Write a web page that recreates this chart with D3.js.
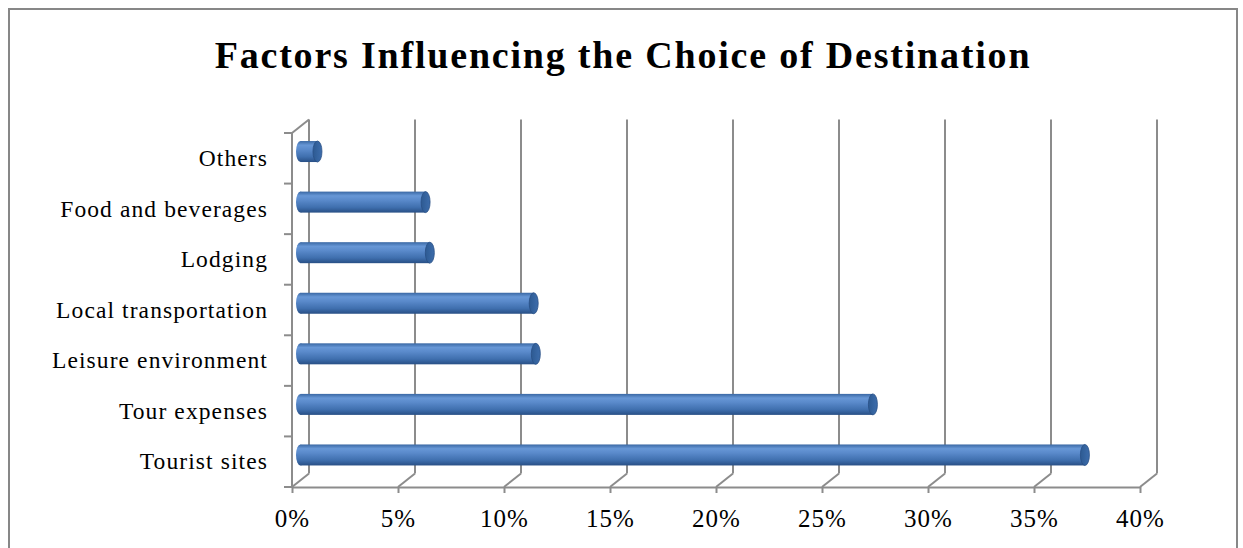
<!DOCTYPE html>
<html>
<head>
<meta charset="utf-8">
<script src="https://cdn.jsdelivr.net/npm/d3@7/dist/d3.min.js"></script>
<style>
  html, body { margin: 0; padding: 0; background: #fff; }
  svg { display: block; }
</style>
</head>
<body>
<svg id="chart" width="1243" height="548"></svg>
<script>
// Survey shares (%) for each factor, listed top to bottom
const categories = ["Others", "Food and beverages", "Lodging", "Local transportation",
                    "Leisure environment", "Tour expenses", "Tourist sites"];
const shares = [0.8, 5.9, 6.1, 11.0, 11.1, 27.0, 37.0];
const xTicks = [0, 5, 10, 15, 20, 25, 30, 35, 40];
const titleText = "Factors Influencing the Choice of Destination";

const serif = "'Liberation Serif', 'Times New Roman', serif";
const svg = d3.select("#chart");

// 3-D offset between the front plane and the back wall
const depthX = 17, depthY = -13.5;
const gridColor = "#8c8c8c";

const x = d3.scaleLinear().domain([0, 40]).range([292, 1140]);
const y = d3.scaleBand().domain(categories).range([133, 487]).padding(0);

// outer chart frame
svg.append("rect")
  .attr("x", 9).attr("y", 9).attr("width", 1228).attr("height", 560)
  .attr("fill", "#fff").attr("stroke", "#878787").attr("stroke-width", 2);

// title
svg.append("text")
  .attr("x", 623).attr("y", 68)
  .attr("text-anchor", "middle")
  .attr("font-family", serif)
  .attr("font-weight", "bold")
  .attr("font-size", 38)
  .attr("letter-spacing", 1.8)
  .attr("fill", "#000")
  .text(titleText);

// gradients for cylinder bodies and end caps
const defs = svg.append("defs");
const grad = defs.append("linearGradient")
  .attr("id", "cyl").attr("x1", 0).attr("y1", 0).attr("x2", 0).attr("y2", 1);
grad.append("stop").attr("offset", "0%").attr("stop-color", "#3a68a4");
grad.append("stop").attr("offset", "20%").attr("stop-color", "#6797d6");
grad.append("stop").attr("offset", "40%").attr("stop-color", "#5a8acb");
grad.append("stop").attr("offset", "75%").attr("stop-color", "#3f6fae");
grad.append("stop").attr("offset", "100%").attr("stop-color", "#284f85");
const capGrad = defs.append("linearGradient")
  .attr("id", "cap").attr("x1", 0).attr("y1", 0).attr("x2", 1).attr("y2", 0);
capGrad.append("stop").attr("offset", "0%").attr("stop-color", "#2d5a92");
capGrad.append("stop").attr("offset", "100%").attr("stop-color", "#3d6dac");

const grid = svg.append("g")
  .attr("stroke", gridColor).attr("stroke-width", 2).attr("fill", "none");

// back wall verticals and floor diagonals
xTicks.forEach(t => {
  grid.append("line")
    .attr("x1", x(t) + depthX).attr("y1", y.range()[0] + depthY)
    .attr("x2", x(t) + depthX).attr("y2", y.range()[1] + depthY);
  grid.append("line")
    .attr("x1", x(t)).attr("y1", y.range()[1])
    .attr("x2", x(t) + depthX).attr("y2", y.range()[1] + depthY);
});

// side wall front edge and its top diagonal
grid.append("line")
  .attr("x1", x(0)).attr("y1", y.range()[0])
  .attr("x2", x(0)).attr("y2", y.range()[1]);
grid.append("line")
  .attr("x1", x(0)).attr("y1", y.range()[0])
  .attr("x2", x(0) + depthX).attr("y2", y.range()[0] + depthY);

// category ticks on band boundaries
const bounds = categories.map(c => y(c)).concat([y.range()[1]]);
bounds.forEach(b => {
  grid.append("line")
    .attr("x1", x(0) - 8).attr("y1", b)
    .attr("x2", x(0)).attr("y2", b);
});

// value axis along the front edge of the floor
const xAxis = svg.append("g")
  .attr("transform", `translate(0,${y.range()[1]})`)
  .call(d3.axisBottom(x).tickValues(xTicks).tickFormat(d => d + "%").tickSize(6).tickSizeOuter(0));
xAxis.select(".domain").attr("stroke", gridColor).attr("stroke-width", 2);
xAxis.selectAll(".tick line").attr("stroke", gridColor).attr("stroke-width", 2);
xAxis.selectAll(".tick text")
  .attr("y", 40).attr("dy", 0)
  .attr("font-family", serif)
  .attr("font-size", 25)
  .attr("letter-spacing", 1)
  .attr("fill", "#000");

// category labels
const yAxis = svg.append("g")
  .attr("transform", `translate(${x(0) - 24},0)`)
  .call(d3.axisLeft(y).tickSize(0).tickPadding(0));
yAxis.select(".domain").remove();
yAxis.selectAll(".tick text")
  .attr("font-family", serif)
  .attr("font-size", 23.5)
  .attr("letter-spacing", 1.1)
  .attr("dy", "0.33em")
  .attr("fill", "#000");

// cylinders at mid depth
const barH = 21, capRx = 4.5;
const bars = svg.append("g");
categories.forEach((c, i) => {
  const cy = y(c) + y.bandwidth() / 2 + depthY / 2;
  const x0 = x(0) + depthX / 2;
  const x1 = x(shares[i]) + depthX / 2;
  const g = bars.append("g");
  g.append("ellipse")
    .attr("cx", x0).attr("cy", cy).attr("rx", capRx).attr("ry", barH / 2)
    .attr("fill", "url(#cyl)");
  g.append("rect")
    .attr("x", x0).attr("y", cy - barH / 2)
    .attr("width", x1 - x0).attr("height", barH)
    .attr("fill", "url(#cyl)");
  g.append("ellipse")
    .attr("cx", x1).attr("cy", cy).attr("rx", capRx).attr("ry", barH / 2)
    .attr("fill", "url(#cap)")
    .attr("stroke", "#284f85").attr("stroke-width", 0.8);
});
</script>
</body>
</html>
